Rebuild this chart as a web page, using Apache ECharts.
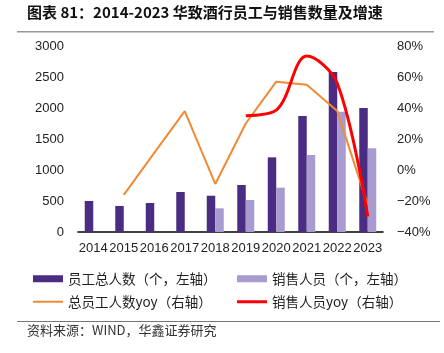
<!DOCTYPE html>
<html><head><meta charset="utf-8">
<script src="https://cdn.jsdelivr.net/npm/echarts@6/dist/echarts.min.js"></script>
<style>html,body{margin:0;padding:0;background:#fff}#c{width:444px;height:353px}</style>
</head><body><div id="c"></div>
<script>
const categories = ['2014','2015','2016','2017','2018','2019','2020','2021','2022','2023'];
const totalStaff = [500, 420, 468, 645, 585, 758, 1204, 1871, 2581, 2000];
const salesStaff = [null, null, null, null, 382, 516, 715, 1242, 1940, 1350];
const totalYoy = [null, -16, 11, 38, -9, 30, 57, 55, 38, -22.5];
const salesYoy = [null, null, null, null, null, 35, 38.6, 73.5, 56, -30];
const leftTicks = [0, 3000, 500];
const rightTicks = [-40, 80, 20];

const names = ['员工总人数（个，左轴）','销售人员（个，左轴）','总员工人数yoy（右轴）','销售人员yoy（右轴）'];
const cjk = '"Noto Sans CJK SC", sans-serif';
const lat = '"Liberation Sans", Arial, sans-serif';
const chart = echarts.init(document.getElementById('c'));
function lg(name, left, top, h) {
  return { data:[name], left:left, top:top, itemWidth:30, itemHeight:h, icon:'rect', padding:0,
    selectedMode:false, textStyle:{fontFamily:cjk, fontSize:13.5, color:'#222'} };
}
chart.setOption({
  animation:false,
  graphic:[
    {type:'text', left:27, top:5, style:{text:'图表 81：2014-2023 华致酒行员工与销售数量及增速', font:'bold 15px "Noto Sans CJK SC", sans-serif', fill:'#111'}},
    {type:'rect', shape:{x:17, y:31, width:417, height:1.5}, style:{fill:'#999'}},
    {type:'rect', shape:{x:17, y:321, width:423, height:1}, style:{fill:'#777'}},
    {type:'text', left:27, top:324, style:{text:'资料来源：WIND，华鑫证券研究', font:'13px "Noto Sans CJK SC", sans-serif', fill:'#333'}}
  ],
  legend:[ lg(names[0],33,272,7), lg(names[1],237,272,7), lg(names[2],33,295,2), lg(names[3],237,295,3) ],
  grid:{left:78, right:61, top:46, bottom:121},
  xAxis:{type:'category', data:categories,
    axisLine:{lineStyle:{color:'#000', width:1.5}},
    axisTick:{length:4, lineStyle:{color:'#000'}},
    axisLabel:{fontFamily:lat, fontSize:13, color:'#222', margin:10, interval:0}},
  yAxis:[
    {type:'value', min:leftTicks[0], max:leftTicks[1], interval:leftTicks[2], splitLine:{show:false},
     axisLine:{show:false}, axisTick:{show:false}, axisLabel:{fontFamily:lat, fontSize:13, color:'#222', margin:14, formatter:v => String(v)}},
    {type:'value', min:rightTicks[0], max:rightTicks[1], interval:rightTicks[2], splitLine:{show:false},
     axisLine:{show:false}, axisTick:{show:false},
     axisLabel:{fontFamily:lat, fontSize:13, color:'#222', margin:14, formatter:v => (v<0?'−'+(-v):v)+'%'}}
  ],
  series:[
    {name:names[0], type:'bar', data:totalStaff, barWidth:8.5, barGap:'0%', itemStyle:{color:'#4B2C83'}},
    {name:names[1], type:'bar', data:salesStaff, barWidth:8.5, barGap:'0%', itemStyle:{color:'#A89BCF'}},
    {name:names[2], type:'line', yAxisIndex:1, data:totalYoy, symbol:'none', lineStyle:{color:'#F08A35', width:2}, itemStyle:{color:'#F08A35'}},
    {name:names[3], type:'line', yAxisIndex:1, data:salesYoy, symbol:'none', smooth:0.35, lineStyle:{color:'#FF0000', width:3}, itemStyle:{color:'#FF0000'}}
  ]
});
</script></body></html>
